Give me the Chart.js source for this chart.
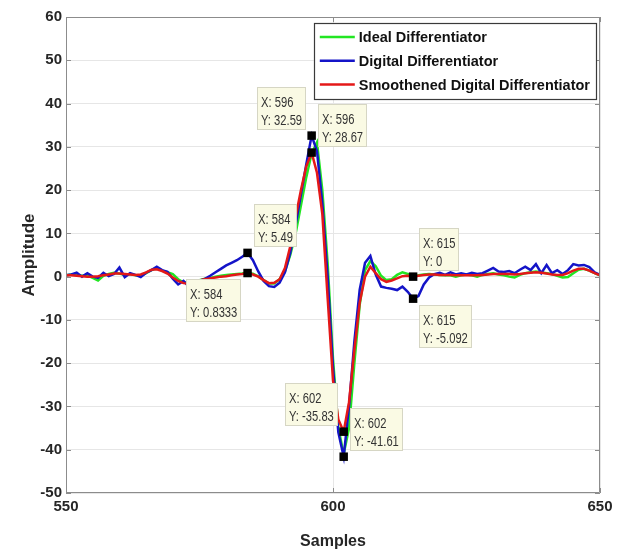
<!DOCTYPE html>
<html>
<head>
<meta charset="utf-8">
<script src="https://cdn.jsdelivr.net/npm/chart.js@4.4.1/dist/chart.umd.min.js"></script>
<style>
  html, body { margin: 0; padding: 0; background: #fff; }
  #chart { display: block; }
</style>
</head>
<body>
<canvas id="chart" width="623" height="552"></canvas>
<script>
// sample index (x axis)
const samples = [
  550, 551, 552, 553, 554, 555, 556, 557, 558, 559,
  560, 561, 562, 563, 564, 565, 566, 567, 568, 569,
  570, 571, 572, 573, 574, 575, 576, 577, 578, 579,
  580, 581, 582, 583, 584, 585, 586, 587, 588, 589,
  590, 591, 592, 593, 594, 595, 596, 597, 598, 599,
  600, 601, 602, 603, 604, 605, 606, 607, 608, 609,
  610, 611, 612, 613, 614, 615, 616, 617, 618, 619,
  620, 621, 622, 623, 624, 625, 626, 627, 628, 629,
  630, 631, 632, 633, 634, 635, 636, 637, 638, 639,
  640, 641, 642, 643, 644, 645, 646, 647, 648, 649,
  650
];

const ideal = [
  0.3, 0.5, 0.4, 0.2, 0.3, -0.3, -0.9, 0.2, 0.6, 0.9,
  0.7, 0.4, 0.6, 0.3, 0.2, 0.8, 1.5, 2.0, 1.4, 1.0,
  0.6, -0.6, -1.3, -1.5, -1.2, -0.8, -0.5, -0.3, 0.0, 0.2,
  0.4, 0.5, 0.6, 0.7, 0.9, 0.7, 0.1, -0.8, -1.6, -1.6,
  -0.6, 1.2, 5.0, 10.0, 16.5, 23.0, 28.5, 31.0, 20.0, 3.0,
  -19.0, -35.0, -41.0, -35.0, -20.0, -6.5, 1.5, 3.6, 2.4, 0.2,
  -0.8, -0.6, 0.4, 1.0, 0.6, 0.2, 0.3, 0.5, 0.6, 0.5,
  0.4, 0.3, 0.3, 0.0, 0.3, 0.5, 0.3, 0.0, 0.4, 0.6,
  0.8, 0.5, 0.3, 0.0, -0.2, 0.4, 0.8, 1.0, 1.2, 1.0,
  0.8, 0.6, 0.2, -0.2, -0.1, 0.8, 1.6, 1.8, 1.4, 0.8,
  0.3
];

const digital = [
  0.3, 0.5, 0.9, 0.0, 0.8, 0.0, -0.3, 0.9, 0.1, 0.6,
  2.1, -0.1, 0.8, 0.4, -0.1, 0.9, 1.5, 2.3, 1.5, 1.1,
  -0.5, -1.8, -1.0, -2.3, -1.5, -1.0, -0.5, 0.2, 1.0, 1.8,
  2.6, 3.2, 3.8, 4.6, 5.49, 3.8, 1.2, -1.0, -2.2, -2.4,
  -1.4, 1.0, 5.5, 12.0, 19.0, 26.0, 32.59, 29.0, 17.0, 0.0,
  -21.0, -36.0, -41.61, -30.0, -15.0, -3.0, 3.2, 4.8, 0.5, -2.3,
  -2.6, -2.8, -3.1, -2.3, -3.5, -5.092, -4.5, -1.8, -0.2, 0.6,
  0.9, 0.4, 1.0, 0.5, 0.8, 0.5, 0.9, 0.6, 0.8, 1.4,
  2.0, 1.2, 1.1, 1.3, 0.8, 1.6, 2.3, 1.5, 2.9, 0.8,
  2.7, 0.8, 1.5, 0.6, 1.5, 2.9, 2.6, 2.7, 2.2, 1.0,
  0.4
];

const smoothed = [
  0.3, 0.3, 0.2, 0.1, 0.0, 0.0, 0.1, 0.3, 0.5, 0.7,
  0.7, 0.6, 0.5, 0.4, 0.5, 1.0, 1.6, 1.7, 1.3, 0.7,
  -0.2, -1.0, -1.5, -1.6, -1.3, -0.9, -0.6, -0.4, -0.2, 0.0,
  0.1, 0.3, 0.5, 0.6, 0.8333, 0.5, 0.0, -0.8, -1.5, -1.4,
  -0.6, 2.0, 7.0, 13.8, 20.0, 25.5, 28.67, 24.0, 14.5, -5.0,
  -24.0, -33.0, -35.83, -29.0, -17.0, -6.0, 0.0, 2.3, 0.8, -0.6,
  -1.2, -0.9, -0.4, 0.1, 0.2, 0.0, 0.2, 0.4, 0.5, 0.5,
  0.4, 0.4, 0.4, 0.3, 0.3, 0.3, 0.3, 0.3, 0.4, 0.5,
  0.6, 0.6, 0.6, 0.6, 0.5, 0.6, 0.8, 0.9, 1.0, 0.9,
  0.7, 0.5, 0.4, 0.4, 0.8, 1.4, 1.8, 1.8, 1.4, 0.8,
  0.3
];

const seriesNames = ["Ideal Differentiator", "Digital Differentiator", "Smoothened Digital Differentiator"];
const seriesColors = ["#22e622", "#1414c8", "#e41818"];

// data tips
const tipX = [596, 596, 584, 584, 602, 602, 615, 615];
const tipY = [32.59, 28.67, 5.49, 0.8333, -35.83, -41.61, 0, -5.092];
const tipText = ["32.59", "28.67", "5.49", "0.8333", "-35.83", "-41.61", "0", "-5.092"];
const tipSide = ["ul", "ur", "ur", "dl", "ul", "ur", "ur", "dr"];

const xTicks = [550, 600, 650];
const yTicks = [-50, -40, -30, -20, -10, 0, 10, 20, 30, 40, 50, 60];

const pts = arr => samples.map((s, i) => ({ x: s, y: arr[i] }));

const frame = {
  id: "frame",
  afterDatasetsDraw(chart) {
    const { ctx, chartArea: a, scales } = chart;
    ctx.save();
    ctx.strokeStyle = "#8c8c8c";
    ctx.lineWidth = 1;
    ctx.beginPath();
    ctx.rect(a.left + 0.5, a.top + 0.5, a.right - a.left - 1, a.bottom - a.top - 1);
    yTicks.forEach(v => {
      const y = Math.round(scales.y.getPixelForValue(v)) + 0.5;
      ctx.moveTo(a.left, y); ctx.lineTo(a.left + 5, y);
      ctx.moveTo(a.right, y); ctx.lineTo(a.right - 5, y);
    });
    xTicks.forEach(v => {
      const x = Math.round(scales.x.getPixelForValue(v)) + 0.5;
      ctx.moveTo(x, a.bottom); ctx.lineTo(x, a.bottom - 5);
      ctx.moveTo(x, a.top); ctx.lineTo(x, a.top + 5);
    });
    ctx.stroke();
    ctx.restore();
  },
  afterDraw(chart) {
    const { ctx, chartArea: a, scales } = chart;
    ctx.save();
    // data tip boxes
    const sx = 0.8;
    ctx.font = "14px 'Liberation Sans', Arial, sans-serif";
    tipX.forEach((xv, i) => {
      const mx = scales.x.getPixelForValue(xv);
      const my = scales.y.getPixelForValue(tipY[i]);
      const l1 = "X: " + xv, l2 = "Y: " + tipText[i];
      const w = Math.max(ctx.measureText(l1).width, ctx.measureText(l2).width) * sx + 8;
      const h = 43, g = 6;
      const side = tipSide[i];
      const bx = side[1] === "l" ? mx - g - w : mx + g;
      const by = side[0] === "u" ? my - g - h : my + g;
      ctx.fillStyle = "#fafae4";
      ctx.strokeStyle = "#d6d6c4";
      ctx.lineWidth = 1;
      ctx.fillRect(Math.round(bx), Math.round(by), Math.round(w), h);
      ctx.strokeRect(Math.round(bx) + 0.5, Math.round(by) + 0.5, Math.round(w) - 1, h - 1);
      ctx.fillStyle = "#333";
      ctx.textBaseline = "alphabetic";
      [[l1, 20], [l2, 38]].forEach(([t, dy]) => {
        ctx.save();
        ctx.translate(Math.round(bx) + 4, Math.round(by) + dy);
        ctx.scale(sx, 1);
        ctx.fillText(t, 0, 0);
        ctx.restore();
      });
    });

    // legend
    ctx.font = "bold 14.5px 'Liberation Sans', Arial, sans-serif";
    const tw = Math.max(...seriesNames.map(n => ctx.measureText(n).width));
    const lw = tw + 51, lh = 76;
    const lx = a.right - 4 - lw, ly = a.top + 6;
    ctx.fillStyle = "#fff";
    ctx.fillRect(lx, ly, lw, lh);
    ctx.strokeStyle = "#3a3a3a";
    ctx.lineWidth = 1.2;
    ctx.strokeRect(Math.round(lx) + 0.5, Math.round(ly) + 0.5, Math.round(lw), lh);
    seriesNames.forEach((n, i) => {
      const cy = ly + 14 + i * 23.8;
      ctx.strokeStyle = seriesColors[i];
      ctx.lineWidth = 2.5;
      ctx.beginPath();
      ctx.moveTo(lx + 6, cy); ctx.lineTo(lx + 41, cy);
      ctx.stroke();
      ctx.fillStyle = "#111";
      ctx.textBaseline = "middle";
      ctx.fillText(n, lx + 45, cy + 1);
    });
    ctx.restore();
  }
};

const lineSet = (arr, i, order) => ({
  label: seriesNames[i],
  data: pts(arr),
  borderColor: seriesColors[i],
  backgroundColor: seriesColors[i],
  borderWidth: 2.5,
  pointRadius: 0,
  tension: 0,
  order: order
});

new Chart(document.getElementById("chart"), {
  type: "line",
  data: {
    datasets: [
      lineSet(ideal, 0, 3),
      lineSet(digital, 1, 2),
      lineSet(smoothed, 2, 1),
      {
        label: "tips",
        data: tipX.map((x, i) => ({ x: x, y: tipY[i] })),
        showLine: false,
        pointStyle: "rect",
        pointRadius: 6,
        pointBackgroundColor: "#000",
        pointBorderWidth: 0,
        order: 0
      }
    ]
  },
  options: {
    responsive: false,
    animation: false,
    layout: { padding: { top: 17, right: 23, left: 0, bottom: 0 } },
    plugins: { legend: { display: false }, tooltip: { enabled: false } },
    scales: {
      x: {
        type: "linear",
        min: 550,
        max: 650,
        afterBuildTicks: s => { s.ticks = xTicks.map(v => ({ value: v })); },
        afterFit: s => { s.height = 59; },
        grid: { color: "#e6e6e6", drawTicks: false },
        border: { display: false },
        ticks: { padding: 5, color: "#262626", maxRotation: 0, font: { family: "'Liberation Sans', Arial", weight: "bold", size: 15 } },
        title: { display: true, text: "Samples", color: "#262626", padding: { top: 0, bottom: 1 }, font: { family: "'Liberation Sans', Arial", weight: "bold", size: 16 } }
      },
      y: {
        min: -50,
        max: 60,
        afterBuildTicks: s => { s.ticks = yTicks.map(v => ({ value: v })); },
        afterFit: s => { s.width = 66; },
        grid: { color: "#e6e6e6", drawTicks: false },
        border: { display: false },
        ticks: { padding: 4, color: "#262626", font: { family: "'Liberation Sans', Arial", weight: "bold", size: 15 } },
        title: { display: true, text: "Amplitude", color: "#262626", padding: { top: 19, bottom: 0 }, font: { family: "'Liberation Sans', Arial", weight: "bold", size: 17 } }
      }
    }
  },
  plugins: [frame]
});
</script>
</body>
</html>
